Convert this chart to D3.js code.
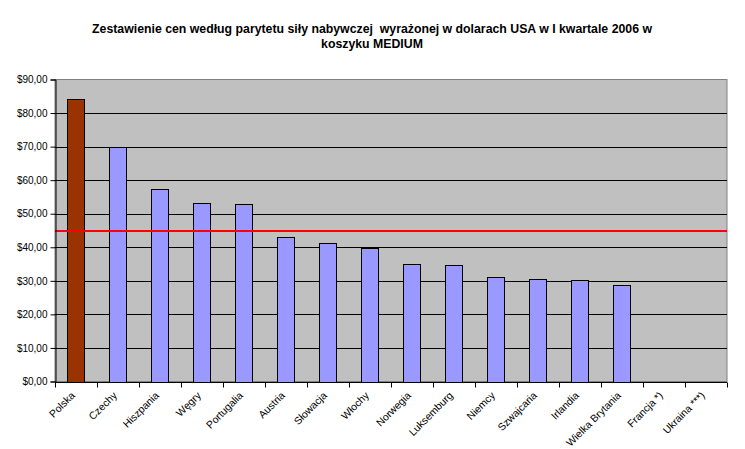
<!DOCTYPE html>
<html><head><meta charset="utf-8">
<script src="https://cdn.jsdelivr.net/npm/d3@7"></script>
<style>body{margin:0;background:#fff;} svg{display:block;} text{white-space:pre;}</style>
</head><body>
<svg id="c" width="745" height="449"></svg>
<script>
const categories = ["Polska","Czechy","Hiszpania","Węgry","Portugalia","Austria","Słowacja","Włochy","Norwegia","Luksemburg","Niemcy","Szwajcaria","Irlandia","Wielka Brytania","Francja *)","Ukraina ***)"];
const values = [84.1,70.0,57.3,53.1,52.8,43.0,41.2,39.8,34.9,34.6,31.0,30.4,30.1,28.7,null,null];
const yTicks = [0,10,20,30,40,50,60,70,80,90];
const averageLine = 45;
const titleLines = ["Zestawienie cen według parytetu siły nabywczej  wyrażonej w dolarach USA w I kwartale 2006 w","koszyku MEDIUM"];

const svg = d3.select("#c");
const m = {l:55, r:727, t:79.5, b:381.5};
const x = d3.scaleBand().domain(categories).range([m.l, m.r]).paddingInner(0.59).paddingOuter(0.295);
const xb = d3.scaleBand().domain(categories).range([m.l, m.r]);
const y = d3.scaleLinear().domain([0,90]).range([m.b, m.t]);
const font = "Arial, 'Liberation Sans', sans-serif";

svg.append("g").selectAll("text").data(titleLines).join("text")
  .attr("x", 372).attr("y", (d,i)=>33+i*15).attr("text-anchor","middle")
  .attr("font-family",font).attr("font-weight","bold").attr("font-size",12.3).text(d=>d);

svg.append("rect").attr("x",m.l).attr("y",m.t).attr("width",m.r-m.l).attr("height",m.b-m.t)
  .attr("fill","#c0c0c0").attr("stroke","#808080").attr("stroke-width",1);

svg.append("g").selectAll("line").data(yTicks.filter(d=>d>0 && d<90)).join("line")
  .attr("x1",m.l).attr("x2",m.r).attr("y1",d=>Math.round(y(d))+0.5).attr("y2",d=>Math.round(y(d))+0.5)
  .attr("stroke","#000").attr("stroke-width",1);

svg.append("g").selectAll("rect").data(categories.map((c,i)=>({c,v:values[i],i})).filter(d=>d.v!=null)).join("rect")
  .attr("x",d=>Math.round(x(d.c))+0.5).attr("y",d=>Math.round(y(d.v))+0.5)
  .attr("width",Math.round(x.bandwidth())).attr("height",d=>Math.round(y(0))-Math.round(y(d.v)))
  .attr("fill",d=>d.i===0?"#993300":"#9999ff").attr("stroke","#000").attr("stroke-width",1);

svg.append("line").attr("x1",m.l).attr("x2",m.r).attr("y1",Math.round(y(averageLine))).attr("y2",Math.round(y(averageLine)))
  .style("stroke","#ff0000").attr("stroke-width",2);

const ya = d3.axisLeft(y).tickValues(yTicks).tickSize(5).tickPadding(3)
  .tickFormat(d=>"$"+d3.format(".2f")(d).replace(".",","));
const gy = svg.append("g").attr("transform",`translate(${m.l+0.5},0)`).call(ya);
gy.selectAll("text").attr("font-family",font).attr("font-size",10).attr("fill","#000");
gy.selectAll("line,path").attr("stroke","#000");

const gx = svg.append("g").attr("transform",`translate(0,${Math.round(m.b)+0.5})`);
gx.append("line").attr("x1",m.l).attr("x2",m.r).attr("stroke","#000");
gx.selectAll("line.t").data(d3.range(categories.length+1)).join("line").attr("class","t")
  .attr("x1",i=>Math.round(m.l+i*xb.step())+0.5).attr("x2",i=>Math.round(m.l+i*xb.step())+0.5)
  .attr("y1",0).attr("y2",5).attr("stroke","#000");
gx.selectAll("text").data(categories).join("text")
  .attr("transform",d=>`translate(${xb(d)+xb.bandwidth()/2-3},11) rotate(-45)`)
  .attr("text-anchor","end").attr("dy","0.35em")
  .attr("font-family",font).attr("font-size",10.4).text(d=>d);
</script>
</body></html>
